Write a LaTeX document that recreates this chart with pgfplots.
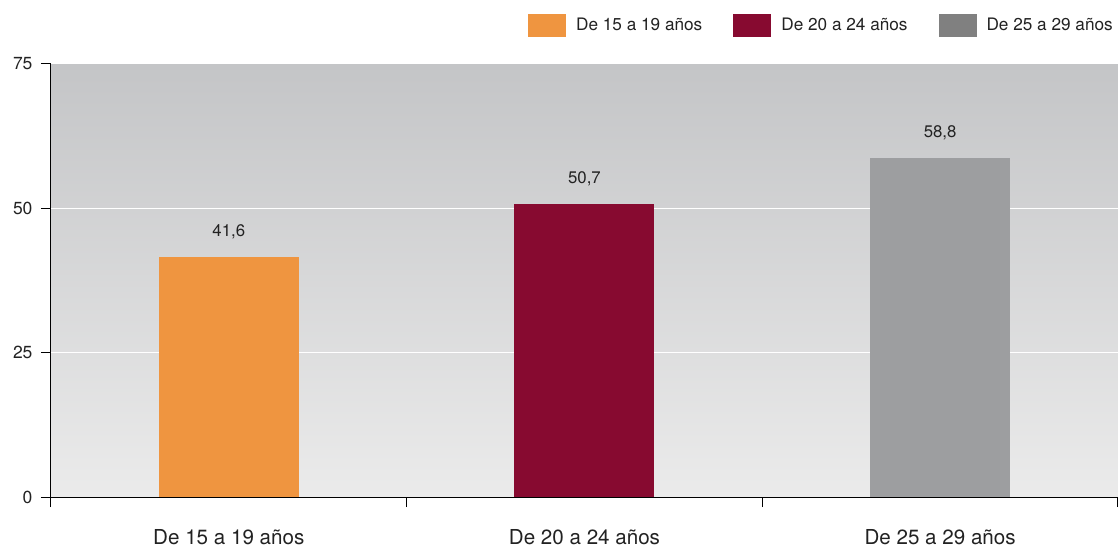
\documentclass[border=0pt]{standalone}
\usepackage{pgfplots}
\pgfplotsset{compat=1.18}
\usepackage{fontspec}
\setmainfont{TeX Gyre Heros}
\definecolor{cOrange}{HTML}{EF9540}
\definecolor{cMaroon}{HTML}{870A30}
\definecolor{cGrayBar}{HTML}{9D9EA0}
\definecolor{cGrayLeg}{HTML}{808080}
\definecolor{bgTop}{HTML}{C4C5C7}
\definecolor{bgBot}{HTML}{EBEBEB}
\definecolor{txt}{HTML}{222222}
\begin{document}
\begin{tikzpicture}
\begin{axis}[
  scale only axis,
  width=1067pt, height=433pt,
  xmin=-0.5, xmax=2.5,
  ymin=0, ymax=75,
  axis x line*=bottom, axis y line*=left,
  axis line style={-, black, line width=1pt},
  axis background/.style={top color=bgTop, bottom color=bgBot},
  ytick={0,25,50,75},
  ymajorgrids, grid style={white, line width=1pt},
  xtick={-0.5,0.5,1.5,2.5},
  xticklabels={},
  extra x ticks={0,1,2},
  extra x tick labels={De 15 a 19 años, De 20 a 24 años, De 25 a 29 años},
  extra x tick style={major tick length=0pt, xticklabel style={font=\fontsize{20.6}{24}\selectfont, text=txt, yshift=-29pt}},
  tick align=outside,
  major tick length=10pt,
  tick style={black, line width=1pt},
  /pgf/number format/assume math mode=true,
  yticklabel style={font=\fontsize{17.5}{20}\selectfont, text=txt, xshift=-5pt},
  ybar, bar width=140pt, bar shift=0pt,
  nodes near coords,
  nodes near coords style={font=\fontsize{16.8}{20}\selectfont, text=txt, anchor=base, inner sep=0pt, yshift=20.5pt,
    /pgf/number format/.cd, use comma, fixed, fixed zerofill, precision=1},
  legend columns=3,
  legend style={at={(1,1)}, anchor=south east, yshift=27pt, xshift=-3pt, draw=none, fill=none,
    font=\fontsize{17.2}{20}\selectfont, text=txt, inner sep=0pt,
    /tikz/every odd column/.append style={column sep=8pt},
    /tikz/every even column/.append style={column sep=29pt}},
  legend image code/.code={\fill[#1] (0pt,-11.5pt) rectangle (38pt,11.5pt);},
  clip=false,
]
\addplot[fill=cOrange, draw=none, forget plot] coordinates {(0,41.6)};
\addplot[fill=cMaroon, draw=none, forget plot] coordinates {(1,50.7)};
\addplot[fill=cGrayBar, draw=none, forget plot] coordinates {(2,58.8)};
\addlegendimage{fill=cOrange, draw=none}
\addlegendimage{fill=cMaroon, draw=none}
\addlegendimage{fill=cGrayLeg, draw=none}
\legend{De 15 a 19 años, De 20 a 24 años, De 25 a 29 años}
\end{axis}
\pgfresetboundingbox
\path (-51pt,-52pt) rectangle (1067pt,497pt);
\end{tikzpicture}
\end{document}
